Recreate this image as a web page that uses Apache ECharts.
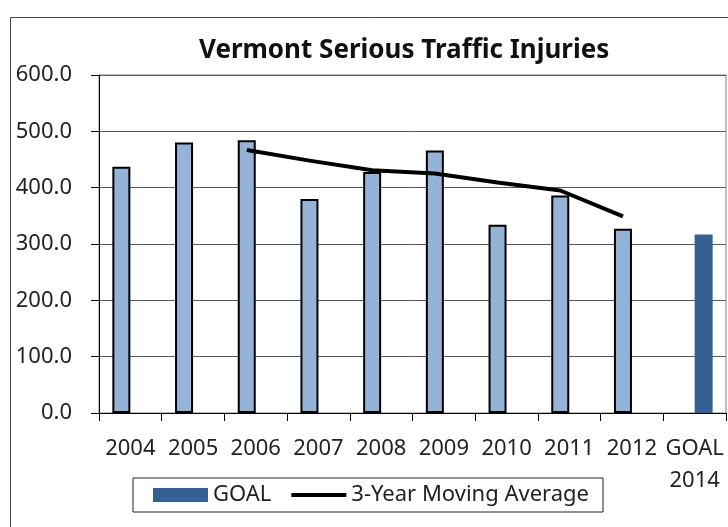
<!DOCTYPE html>
<html>
<head>
<meta charset="utf-8">
<script src="https://cdn.jsdelivr.net/npm/echarts@6/dist/echarts.min.js"></script>
<style>
  html, body { margin: 0; padding: 0; background: #fff; }
  #chart { width: 728px; height: 527px; }
</style>
</head>
<body>
<div id="chart"></div>
<script>
  // 数据
  const years = ['2004', '2005', '2006', '2007', '2008', '2009', '2010', '2011', '2012', 'GOAL\n2014']
  const injuries = [437, 480, 484, 380, 428, 466, 334, 386, 327, null]
  const goal = [null, null, null, null, null, null, null, null, null, 317]
  const movingAvg = [null, null, 467, 448, 431, 425, 409, 395, 349, null]
  const yTicks = [0, 100, 200, 300, 400, 500, 600]

  const font = 'Noto Sans'
  // 折线点落在浅色柱子中心（柱子在类目内偏左）
  const lineShift = -0.143

  const chart = echarts.init(document.getElementById('chart'))

  const option = {
    animation: false,
    textStyle: { fontFamily: font },
    title: {
      text: 'Vermont Serious Traffic Injuries',
      left: 194,
      top: 33,
      textStyle: { fontFamily: font, fontSize: 26, fontWeight: 'bold', color: '#111' }
    },
    graphic: [{
      type: 'rect',
      shape: { x: 10.5, y: 17.5, width: 900, height: 900 },
      style: { fill: 'none', stroke: '#444', lineWidth: 1 },
      silent: true
    }],
    grid: {
      left: 99, right: 2, top: 75, bottom: 114,
      show: true, borderColor: '#808080', borderWidth: 1
    },
    legend: {
      data: [
        { name: 'GOAL', icon: 'rect' },
        { name: '3-Year Moving Average', icon: 'path://M0,0H57V4H0Z' }
      ],
      left: 133, top: 478,
      padding: [6, 14, 6, 20],
      borderColor: '#222', borderWidth: 1,
      itemWidth: 55, itemHeight: 14, itemGap: 20,
      textStyle: { fontFamily: font, fontSize: 22, color: '#222' }
    },
    xAxis: [{
      type: 'category',
      data: years,
      axisLine: { lineStyle: { color: '#000', width: 1 } },
      axisTick: { show: true, length: 8, interval: 0, lineStyle: { color: '#000' } },
      axisLabel: { interval: 0, margin: 20, fontSize: 22, lineHeight: 32, color: '#222', fontFamily: font }
    }, {
      type: 'value',
      min: -0.5, max: 9.5,
      show: false
    }],
    yAxis: {
      type: 'value',
      min: yTicks[0], max: yTicks[yTicks.length - 1], interval: 100,
      axisLine: { show: true, onZero: false, lineStyle: { color: '#000', width: 1 } },
      axisTick: { show: true, inside: false, length: 8, lineStyle: { color: '#000' } },
      axisLabel: { margin: 27, fontSize: 22, color: '#222', fontFamily: font, formatter: v => v.toFixed(1) },
      splitLine: { lineStyle: { color: '#5a5a5a', width: 1 } }
    },
    series: [{
      name: 'Serious Injuries',
      type: 'bar',
      data: injuries,
      barWidth: 18,
      barGap: '0%',
      itemStyle: { color: '#95B3D7', borderColor: '#000', borderWidth: 2 }
    }, {
      name: 'GOAL',
      type: 'bar',
      data: goal,
      barWidth: 18,
      barGap: '0%',
      itemStyle: { color: '#376092' }
    }, {
      name: '3-Year Moving Average',
      type: 'line',
      xAxisIndex: 1,
      data: movingAvg.map((v, i) => v == null ? null : [i + lineShift, v]).filter(d => d),
      symbol: 'none',
      lineStyle: { color: '#000', width: 4 },
      itemStyle: { color: '#000' },
      z: 5
    }]
  }

  chart.setOption(option)
</script>
</body>
</html>
